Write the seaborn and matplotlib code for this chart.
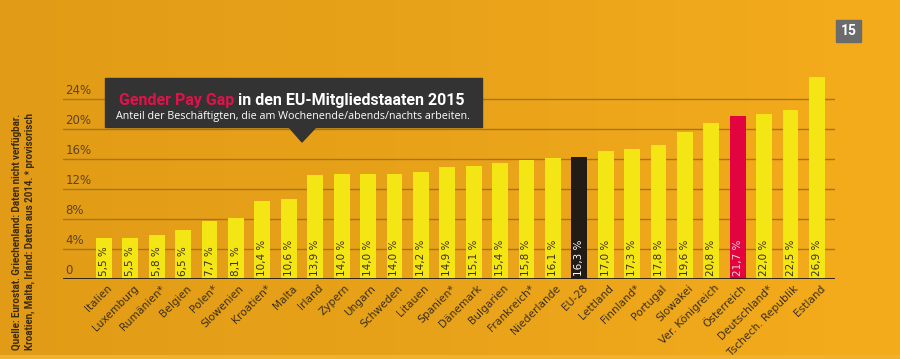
import numpy as np
import pandas as pd
import matplotlib.pyplot as plt
import matplotlib.transforms as mtransforms
from matplotlib.patches import Rectangle, Polygon
from matplotlib.colors import LinearSegmentedColormap
import seaborn as sns

# --- Daten ---
laender = ["Italien", "Luxemburg", "Rumänien*", "Belgien", "Polen*", "Slowenien",
           "Kroatien*", "Malta", "Irland", "Zypern", "Ungarn", "Schweden", "Litauen",
           "Spanien*", "Dänemark", "Bulgarien", "Frankreich*", "Niederlande", "EU-28",
           "Lettland", "Finnland*", "Portugal", "Slowakei", "Ver. Königreich",
           "Österreich", "Deutschland*", "Tschech. Republik", "Estland"]
werte = [5.5, 5.5, 5.8, 6.5, 7.7, 8.1, 10.4, 10.6, 13.9, 14.0, 14.0, 14.0, 14.2,
         14.9, 15.1, 15.4, 15.8, 16.1, 16.3, 17.0, 17.3, 17.8, 19.6, 20.8,
         21.7, 22.0, 22.5, 26.9]
y_ticks = [0, 4, 8, 12, 16, 20, 24]
y_labels = ["0", "4%", "8%", "12%", "16%", "20%", "24%"]

GELB = "#F4E514"
SCHWARZ = "#231B15"
ROT = "#E2043F"

df = pd.DataFrame({"Land": laender, "Wert": werte})
farben = {l: GELB for l in laender}
farben["EU-28"] = SCHWARZ
farben["Österreich"] = ROT

sns.set_style("white")
plt.rcParams["font.family"] = ["DejaVu Sans"]

fig = plt.figure(figsize=(9, 3.59), dpi=100)


def passend(txt, breite_px, max_size):
    # Schriftgroesse verkleinern bis der Text in die Breite passt
    size = max_size
    txt.set_fontsize(size)
    while size > 4:
        fig.canvas.draw()
        w = txt.get_window_extent(renderer=fig.canvas.get_renderer())
        if max(w.width, w.height) <= breite_px:
            break
        size -= 0.25
        txt.set_fontsize(size)
    return txt


# Hintergrund mit leichtem Verlauf
bg = fig.add_axes([0, 0, 1, 1], zorder=-10)
verlauf = np.linspace(0, 1, 256)[None, :]
cm = LinearSegmentedColormap.from_list("bg", ["#E19B16", "#E9A31A", "#F5AC1C"])
bg.imshow(verlauf, aspect="auto", cmap=cm, extent=[0, 1, 0, 1])
bg.add_patch(Rectangle((0, 0), 1, 0.012, color="#F0B030", lw=0))
bg.set_xlim(0, 1)
bg.set_ylim(0, 1)
bg.axis("off")

ax = fig.add_axes([0.07, 0.2228, 0.858, 0.5852])
ax.patch.set_alpha(0)

sns.barplot(data=df, x="Land", y="Wert", hue="Land", palette=farben,
            width=0.6, legend=False, ax=ax, zorder=3, saturation=1,
            linewidth=0, edgecolor="none")

ax.set_xlim(-1.55, 27.69)
ax.set_ylim(0, 28)
ax.set_xlabel("")
ax.set_ylabel("")
for s in ax.spines.values():
    s.set_visible(False)

# Gitterlinien + Achsenbeschriftung
for t, lab in zip(y_ticks, y_labels):
    if t == 0:
        ax.axhline(0, color="#1E1A14", lw=2, zorder=5)
    else:
        ax.axhline(t, color="#A8741A", lw=1, zorder=1)
    ax.text(0.003, t + 0.3, lab, transform=ax.get_yaxis_transform(),
            ha="left", va="bottom", fontsize=8.5, color="#5A4526")
ax.set_yticks([])

# Werte in den Balken
for p, w, l in zip(ax.patches, werte, laender):
    txtfarbe = "#3A2E10"
    if l == "EU-28":
        txtfarbe = "white"
    elif l == "Österreich":
        txtfarbe = "#FFD6E0"
    ax.text(p.get_x() + p.get_width() / 2, 0.35,
            f"{w:.1f} %".replace(".", ","), rotation=90, ha="center",
            va="bottom", fontsize=7.5, color=txtfarbe, zorder=6)

# X-Beschriftung
ax.tick_params(axis="x", length=0, pad=3)
ax.set_xticks(range(len(laender)))
ax.set_xticklabels(laender, rotation=45, ha="right", rotation_mode="anchor",
                   fontsize=7.7, color="#3B2F1A")
versatz = mtransforms.ScaledTranslation(3 / 100, 0, fig.dpi_scale_trans)
for lab in ax.get_xticklabels():
    lab.set_transform(lab.get_transform() + versatz)

# Titelbox
px = lambda x, y: (x / 900, 1 - y / 359)
x0, y0 = px(105, 127)
x1, y1 = px(482, 78)
fig.patches.append(Rectangle((x0, y0), x1 - x0, y1 - y0, transform=fig.transFigure,
                             color="#333333", zorder=20))
fig.patches.append(Polygon([px(288, 126), px(317, 126), px(302, 142)], closed=True,
                           transform=fig.transFigure, color="#333333", zorder=20))
tfont = ["Roboto", "DejaVu Sans"]
# Titel aus zwei Teilen: rot + weiss
t1 = fig.text(0, 1 - 105 / 359, "Gender Pay Gap", color="#E0124A",
              fontweight="bold", family=tfont, zorder=21,
              ha="left", va="baseline")
t2 = fig.text(0, 1 - 105 / 359, " in den EU-Mitgliedstaaten 2015",
              color="white", fontweight="bold", family=tfont, zorder=21,
              ha="left", va="baseline")
size = 15
while size > 6:
    t1.set_fontsize(size)
    t2.set_fontsize(size)
    fig.canvas.draw()
    r = fig.canvas.get_renderer()
    w1 = t1.get_window_extent(r).width
    gesamt = w1 + t2.get_window_extent(r).width
    if gesamt <= 350:
        break
    size -= 0.25
start = 292 - gesamt / 2
t1.set_x(start / 900)
t2.set_x((start + w1) / 900)

sub = fig.text(293 / 900, 1 - 117 / 359,
               "Anteil der Beschäftigten, die am Wochenende/abends/nachts arbeiten.",
               color="white", ha="center", va="center", zorder=21,
               family=["Open Sans", "DejaVu Sans"])
passend(sub, 362, 9)

# Seitenzahl
bx0, by0 = px(836, 42)
bx1, by1 = px(861, 20)
fig.patches.append(Rectangle((bx0, by0), bx1 - bx0, by1 - by0,
                             transform=fig.transFigure, color="#6B6B6B", zorder=20))
fig.text((bx0 + bx1) / 2, (by0 + by1) / 2, "15", color="white", fontsize=10,
         fontweight="bold", ha="center", va="center", zorder=21, family=tfont)

# Quelle
q1 = fig.text(17 / 900, 1 - 232 / 359,
              "Quelle: Eurostat. Griechenland: Daten nicht verfügbar.",
              rotation=90, ha="center", va="center", fontweight="bold",
              color="#3A2A10", family=tfont)
q2 = fig.text(30 / 900, 1 - 232 / 359,
              "Kroatien, Malta, Irland: Daten aus 2014. * provisorisch",
              rotation=90, ha="center", va="center", fontweight="bold",
              color="#3A2A10", family=tfont)
passend(q1, 245, 8)
passend(q2, 245, 8)
q1.set_fontsize(min(q1.get_fontsize(), q2.get_fontsize()))
q2.set_fontsize(q1.get_fontsize())

fig.savefig("out.png", dpi=100)
